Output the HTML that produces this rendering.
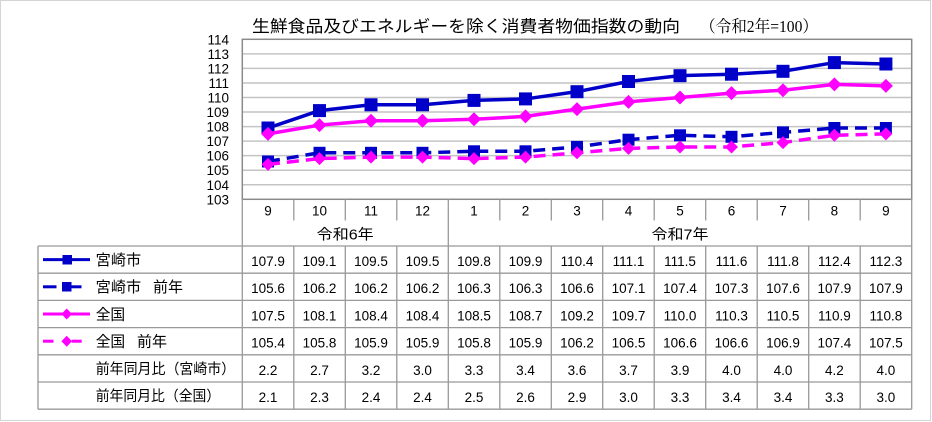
<!DOCTYPE html>
<html><head><meta charset="utf-8">
<style>
html,body{margin:0;padding:0;background:#fff;}
svg{display:block;}
text{font-family:"Liberation Sans","Noto Sans CJK JP",sans-serif;fill:#000;}
.jp{font-family:"Liberation Sans","Noto Sans CJK JP",sans-serif;}
.num{font-size:13.5px;text-anchor:middle;}
.yl{font-size:13.5px;text-anchor:end;}
</style></head>
<body>
<svg width="932" height="422" viewBox="0 0 932 422" xmlns="http://www.w3.org/2000/svg">
<rect x="0.5" y="0.5" width="930" height="420" fill="#fff" stroke="#d4d4d4" stroke-width="1"/>

<!-- Title -->
<text class="jp" x="252" y="32" font-size="16.5" textLength="428" lengthAdjust="spacingAndGlyphs">生鮮食品及びエネルギーを除く消費者物価指数の動向</text>
<text x="700" y="32" font-size="16.5" style="font-family:'Liberation Serif','Noto Serif CJK JP',serif" textLength="118" lengthAdjust="spacingAndGlyphs">（令和2年=100）</text>

<!-- Gridlines -->
<g stroke="#c4c4c4" stroke-width="1.5">
<line x1="242.3" x2="911.7" y1="53.85" y2="53.85"/>
<line x1="242.3" x2="911.7" y1="68.4" y2="68.4"/>
<line x1="242.3" x2="911.7" y1="82.94" y2="82.94"/>
<line x1="242.3" x2="911.7" y1="97.48" y2="97.48"/>
<line x1="242.3" x2="911.7" y1="112.03" y2="112.03"/>
<line x1="242.3" x2="911.7" y1="126.57" y2="126.57"/>
<line x1="242.3" x2="911.7" y1="141.12" y2="141.12"/>
<line x1="242.3" x2="911.7" y1="155.66" y2="155.66"/>
<line x1="242.3" x2="911.7" y1="170.21" y2="170.21"/>
<line x1="242.3" x2="911.7" y1="184.75" y2="184.75"/>
</g>
<rect x="242.3" y="39.3" width="669.4" height="160" fill="none" stroke="#8a8a8a" stroke-width="1.5"/>

<!-- Y labels -->
<g class="yl">
<text class="yl" x="229" y="44.3">114</text>
<text class="yl" x="229" y="58.8">113</text>
<text class="yl" x="229" y="73.4">112</text>
<text class="yl" x="229" y="87.9">111</text>
<text class="yl" x="229" y="102.5">110</text>
<text class="yl" x="229" y="117">109</text>
<text class="yl" x="229" y="131.6">108</text>
<text class="yl" x="229" y="146.1">107</text>
<text class="yl" x="229" y="160.7">106</text>
<text class="yl" x="229" y="175.2">105</text>
<text class="yl" x="229" y="189.8">104</text>
<text class="yl" x="229" y="204.3">103</text>
</g>

<!-- Series: 宮崎市 -->
<polyline fill="none" stroke="#0000c8" stroke-width="3.5" stroke-linejoin="round" points="268,128.03 319.5,110.58 371,104.76 422.5,104.76 474,100.39 525.5,98.94 577,91.67 628.5,81.49 680,75.67 731.5,74.21 783,71.3 834.4,62.58 885.9,64.03"/>
<g fill="#0000c8">
<rect x="261.5" y="121.5" width="13" height="13"/>
<rect x="313" y="104.1" width="13" height="13"/>
<rect x="364.5" y="98.3" width="13" height="13"/>
<rect x="416" y="98.3" width="13" height="13"/>
<rect x="467.5" y="93.9" width="13" height="13"/>
<rect x="519" y="92.4" width="13" height="13"/>
<rect x="570.5" y="85.2" width="13" height="13"/>
<rect x="622" y="75" width="13" height="13"/>
<rect x="673.5" y="69.2" width="13" height="13"/>
<rect x="725" y="67.7" width="13" height="13"/>
<rect x="776.5" y="64.8" width="13" height="13"/>
<rect x="827.9" y="56.1" width="13" height="13"/>
<rect x="879.4" y="57.5" width="13" height="13"/>
</g>

<!-- Series: 宮崎市 前年 -->
<polyline fill="none" stroke="#0000c8" stroke-width="3.5" stroke-dasharray="12,7" points="268,161.48 319.5,152.76 371,152.76 422.5,152.76 474,151.3 525.5,151.3 577,146.94 628.5,139.67 680,135.3 731.5,136.76 783,132.39 834.4,128.03 885.9,128.03"/>
<g fill="#0000c8">
<rect x="262" y="155.5" width="12" height="12"/>
<rect x="313.5" y="146.8" width="12" height="12"/>
<rect x="365" y="146.8" width="12" height="12"/>
<rect x="416.5" y="146.8" width="12" height="12"/>
<rect x="468" y="145.3" width="12" height="12"/>
<rect x="519.5" y="145.3" width="12" height="12"/>
<rect x="571" y="140.9" width="12" height="12"/>
<rect x="622.5" y="133.7" width="12" height="12"/>
<rect x="674" y="129.3" width="12" height="12"/>
<rect x="725.5" y="130.8" width="12" height="12"/>
<rect x="777" y="126.4" width="12" height="12"/>
<rect x="828.4" y="122" width="12" height="12"/>
<rect x="879.9" y="122" width="12" height="12"/>
</g>

<!-- Series: 全国 -->
<polyline fill="none" stroke="#ff00ff" stroke-width="3.5" stroke-linejoin="round" points="268,133.85 319.5,125.12 371,120.76 422.5,120.76 474,119.3 525.5,116.39 577,109.12 628.5,101.85 680,97.48 731.5,93.12 783,90.21 834.4,84.39 885.9,85.85"/>
<g fill="#ff00ff">
<polygon points="268,126.85 275,133.85 268,140.85 261,133.85"/>
<polygon points="319.5,118.12 326.5,125.12 319.5,132.12 312.5,125.12"/>
<polygon points="371,113.76 378,120.76 371,127.76 364,120.76"/>
<polygon points="422.5,113.76 429.5,120.76 422.5,127.76 415.5,120.76"/>
<polygon points="474,112.3 481,119.3 474,126.3 467,119.3"/>
<polygon points="525.5,109.39 532.5,116.39 525.5,123.39 518.5,116.39"/>
<polygon points="577,102.12 584,109.12 577,116.12 570,109.12"/>
<polygon points="628.5,94.85 635.5,101.85 628.5,108.85 621.5,101.85"/>
<polygon points="680,90.48 687,97.48 680,104.48 673,97.48"/>
<polygon points="731.5,86.12 738.5,93.12 731.5,100.12 724.5,93.12"/>
<polygon points="783,83.21 790,90.21 783,97.21 776,90.21"/>
<polygon points="834.4,77.39 841.4,84.39 834.4,91.39 827.4,84.39"/>
<polygon points="885.9,78.85 892.9,85.85 885.9,92.85 878.9,85.85"/>
</g>

<!-- Series: 全国 前年 -->
<polyline fill="none" stroke="#ff00ff" stroke-width="3.5" stroke-dasharray="12,7" points="268,164.39 319.5,158.57 371,157.12 422.5,157.12 474,158.57 525.5,157.12 577,152.76 628.5,148.39 680,146.94 731.5,146.94 783,142.57 834.4,135.3 885.9,133.85"/>
<g fill="#ff00ff">
<polygon points="268,157.89 274.5,164.39 268,170.89 261.5,164.39"/>
<polygon points="319.5,152.07 326,158.57 319.5,165.07 313,158.57"/>
<polygon points="371,150.62 377.5,157.12 371,163.62 364.5,157.12"/>
<polygon points="422.5,150.62 429,157.12 422.5,163.62 416,157.12"/>
<polygon points="474,152.07 480.5,158.57 474,165.07 467.5,158.57"/>
<polygon points="525.5,150.62 532,157.12 525.5,163.62 519,157.12"/>
<polygon points="577,146.26 583.5,152.76 577,159.26 570.5,152.76"/>
<polygon points="628.5,141.89 635,148.39 628.5,154.89 622,148.39"/>
<polygon points="680,140.44 686.5,146.94 680,153.44 673.5,146.94"/>
<polygon points="731.5,140.44 738,146.94 731.5,153.44 725,146.94"/>
<polygon points="783,136.07 789.5,142.57 783,149.07 776.5,142.57"/>
<polygon points="834.4,128.8 840.9,135.3 834.4,141.8 827.9,135.3"/>
<polygon points="885.9,127.35 892.4,133.85 885.9,140.35 879.4,133.85"/>
</g>

<!-- Table lines -->
<g stroke="#999" stroke-width="1.3" fill="none">
<line x1="242.3" y1="199.3" x2="242.3" y2="409.2"/>
<line x1="911.7" y1="199.3" x2="911.7" y2="409.2"/>
<line x1="448.3" y1="199.3" x2="448.3" y2="409.2"/>
<line x1="38" y1="246" x2="38" y2="409.2"/>
<line x1="38" y1="246" x2="911.7" y2="246"/>
<line x1="38" y1="273.2" x2="911.7" y2="273.2"/>
<line x1="38" y1="300.4" x2="911.7" y2="300.4"/>
<line x1="38" y1="327.6" x2="911.7" y2="327.6"/>
<line x1="38" y1="354.8" x2="911.7" y2="354.8"/>
<line x1="38" y1="382" x2="911.7" y2="382"/>
<line x1="38" y1="409.2" x2="911.7" y2="409.2"/>
<!-- header ticks -->
<line x1="293.8" y1="199.3" x2="293.8" y2="220.5"/>
<line x1="345.3" y1="199.3" x2="345.3" y2="220.5"/>
<line x1="396.8" y1="199.3" x2="396.8" y2="220.5"/>
<line x1="499.8" y1="199.3" x2="499.8" y2="220.5"/>
<line x1="551.3" y1="199.3" x2="551.3" y2="220.5"/>
<line x1="602.7" y1="199.3" x2="602.7" y2="220.5"/>
<line x1="654.2" y1="199.3" x2="654.2" y2="220.5"/>
<line x1="705.7" y1="199.3" x2="705.7" y2="220.5"/>
<line x1="757.2" y1="199.3" x2="757.2" y2="220.5"/>
<line x1="808.7" y1="199.3" x2="808.7" y2="220.5"/>
<line x1="860.2" y1="199.3" x2="860.2" y2="220.5"/>
<!-- data column lines -->
<line x1="293.8" y1="246" x2="293.8" y2="409.2"/>
<line x1="345.3" y1="246" x2="345.3" y2="409.2"/>
<line x1="396.8" y1="246" x2="396.8" y2="409.2"/>
<line x1="499.8" y1="246" x2="499.8" y2="409.2"/>
<line x1="551.3" y1="246" x2="551.3" y2="409.2"/>
<line x1="602.7" y1="246" x2="602.7" y2="409.2"/>
<line x1="654.2" y1="246" x2="654.2" y2="409.2"/>
<line x1="705.7" y1="246" x2="705.7" y2="409.2"/>
<line x1="757.2" y1="246" x2="757.2" y2="409.2"/>
<line x1="808.7" y1="246" x2="808.7" y2="409.2"/>
<line x1="860.2" y1="246" x2="860.2" y2="409.2"/>
</g>

<!-- Month labels -->
<g>
<text class="num" x="268" y="215.5">9</text>
<text class="num" x="319.5" y="215.5">10</text>
<text class="num" x="371" y="215.5">11</text>
<text class="num" x="422.5" y="215.5">12</text>
<text class="num" x="474" y="215.5">1</text>
<text class="num" x="525.5" y="215.5">2</text>
<text class="num" x="577" y="215.5">3</text>
<text class="num" x="628.5" y="215.5">4</text>
<text class="num" x="680" y="215.5">5</text>
<text class="num" x="731.5" y="215.5">6</text>
<text class="num" x="783" y="215.5">7</text>
<text class="num" x="834.4" y="215.5">8</text>
<text class="num" x="885.9" y="215.5">9</text>
</g>
<text class="jp" x="316.7" y="239.5" font-size="14.5" textLength="57" lengthAdjust="spacingAndGlyphs">令和6年</text>
<text class="jp" x="651.5" y="239.5" font-size="14.5" textLength="57" lengthAdjust="spacingAndGlyphs">令和7年</text>

<!-- Legend -->
<line x1="43" y1="259.6" x2="90" y2="259.6" stroke="#0000c8" stroke-width="3"/>
<rect x="62.5" y="255" width="9.5" height="9.5" fill="#0000c8"/>
<line x1="43" y1="286.8" x2="56.5" y2="286.8" stroke="#0000c8" stroke-width="3"/>
<line x1="71.5" y1="286.8" x2="81.5" y2="286.8" stroke="#0000c8" stroke-width="3"/>
<rect x="62" y="282" width="9.5" height="9.5" fill="#0000c8"/>
<line x1="43" y1="314" x2="90" y2="314" stroke="#ff00ff" stroke-width="3"/>
<polygon points="66.7,308.5 72,314 66.7,319.5 61.4,314" fill="#ff00ff"/>
<line x1="43" y1="341.2" x2="53.5" y2="341.2" stroke="#ff00ff" stroke-width="3"/>
<line x1="71.7" y1="341.2" x2="81.7" y2="341.2" stroke="#ff00ff" stroke-width="3"/>
<polygon points="66.7,335.7 72,341.2 66.7,346.7 61.4,341.2" fill="#ff00ff"/>

<text class="jp" x="95.7" y="265" font-size="15" textLength="45.5" lengthAdjust="spacingAndGlyphs">宮崎市</text>
<text class="jp" x="95.7" y="292.2" font-size="15" textLength="45.5" lengthAdjust="spacingAndGlyphs">宮崎市</text>
<text class="jp" x="153" y="292.2" font-size="15" textLength="30" lengthAdjust="spacingAndGlyphs">前年</text>
<text class="jp" x="95.7" y="319.4" font-size="15" textLength="29.5" lengthAdjust="spacingAndGlyphs">全国</text>
<text class="jp" x="95.7" y="346.6" font-size="15" textLength="29.5" lengthAdjust="spacingAndGlyphs">全国</text>
<text class="jp" x="137" y="346.6" font-size="15" textLength="30" lengthAdjust="spacingAndGlyphs">前年</text>
<text class="jp" x="95.7" y="373.8" font-size="14.5" textLength="139.5" lengthAdjust="spacingAndGlyphs">前年同月比（宮崎市）</text>
<text class="jp" x="95.7" y="401" font-size="14.5" textLength="124.5" lengthAdjust="spacingAndGlyphs">前年同月比（全国）</text>

<!-- Data rows -->
<g>
<text class="num" x="268" y="266">107.9</text><text class="num" x="319.5" y="266">109.1</text><text class="num" x="371" y="266">109.5</text><text class="num" x="422.5" y="266">109.5</text><text class="num" x="474" y="266">109.8</text><text class="num" x="525.5" y="266">109.9</text><text class="num" x="577" y="266">110.4</text><text class="num" x="628.5" y="266">111.1</text><text class="num" x="680" y="266">111.5</text><text class="num" x="731.5" y="266">111.6</text><text class="num" x="783" y="266">111.8</text><text class="num" x="834.4" y="266">112.4</text><text class="num" x="885.9" y="266">112.3</text>

<text class="num" x="268" y="293.2">105.6</text><text class="num" x="319.5" y="293.2">106.2</text><text class="num" x="371" y="293.2">106.2</text><text class="num" x="422.5" y="293.2">106.2</text><text class="num" x="474" y="293.2">106.3</text><text class="num" x="525.5" y="293.2">106.3</text><text class="num" x="577" y="293.2">106.6</text><text class="num" x="628.5" y="293.2">107.1</text><text class="num" x="680" y="293.2">107.4</text><text class="num" x="731.5" y="293.2">107.3</text><text class="num" x="783" y="293.2">107.6</text><text class="num" x="834.4" y="293.2">107.9</text><text class="num" x="885.9" y="293.2">107.9</text>

<text class="num" x="268" y="320.4">107.5</text><text class="num" x="319.5" y="320.4">108.1</text><text class="num" x="371" y="320.4">108.4</text><text class="num" x="422.5" y="320.4">108.4</text><text class="num" x="474" y="320.4">108.5</text><text class="num" x="525.5" y="320.4">108.7</text><text class="num" x="577" y="320.4">109.2</text><text class="num" x="628.5" y="320.4">109.7</text><text class="num" x="680" y="320.4">110.0</text><text class="num" x="731.5" y="320.4">110.3</text><text class="num" x="783" y="320.4">110.5</text><text class="num" x="834.4" y="320.4">110.9</text><text class="num" x="885.9" y="320.4">110.8</text>

<text class="num" x="268" y="347.6">105.4</text><text class="num" x="319.5" y="347.6">105.8</text><text class="num" x="371" y="347.6">105.9</text><text class="num" x="422.5" y="347.6">105.9</text><text class="num" x="474" y="347.6">105.8</text><text class="num" x="525.5" y="347.6">105.9</text><text class="num" x="577" y="347.6">106.2</text><text class="num" x="628.5" y="347.6">106.5</text><text class="num" x="680" y="347.6">106.6</text><text class="num" x="731.5" y="347.6">106.6</text><text class="num" x="783" y="347.6">106.9</text><text class="num" x="834.4" y="347.6">107.4</text><text class="num" x="885.9" y="347.6">107.5</text>

<text class="num" x="268" y="374.8">2.2</text><text class="num" x="319.5" y="374.8">2.7</text><text class="num" x="371" y="374.8">3.2</text><text class="num" x="422.5" y="374.8">3.0</text><text class="num" x="474" y="374.8">3.3</text><text class="num" x="525.5" y="374.8">3.4</text><text class="num" x="577" y="374.8">3.6</text><text class="num" x="628.5" y="374.8">3.7</text><text class="num" x="680" y="374.8">3.9</text><text class="num" x="731.5" y="374.8">4.0</text><text class="num" x="783" y="374.8">4.0</text><text class="num" x="834.4" y="374.8">4.2</text><text class="num" x="885.9" y="374.8">4.0</text>

<text class="num" x="268" y="402">2.1</text><text class="num" x="319.5" y="402">2.3</text><text class="num" x="371" y="402">2.4</text><text class="num" x="422.5" y="402">2.4</text><text class="num" x="474" y="402">2.5</text><text class="num" x="525.5" y="402">2.6</text><text class="num" x="577" y="402">2.9</text><text class="num" x="628.5" y="402">3.0</text><text class="num" x="680" y="402">3.3</text><text class="num" x="731.5" y="402">3.4</text><text class="num" x="783" y="402">3.4</text><text class="num" x="834.4" y="402">3.3</text><text class="num" x="885.9" y="402">3.0</text>
</g>
</svg>
</body></html>
